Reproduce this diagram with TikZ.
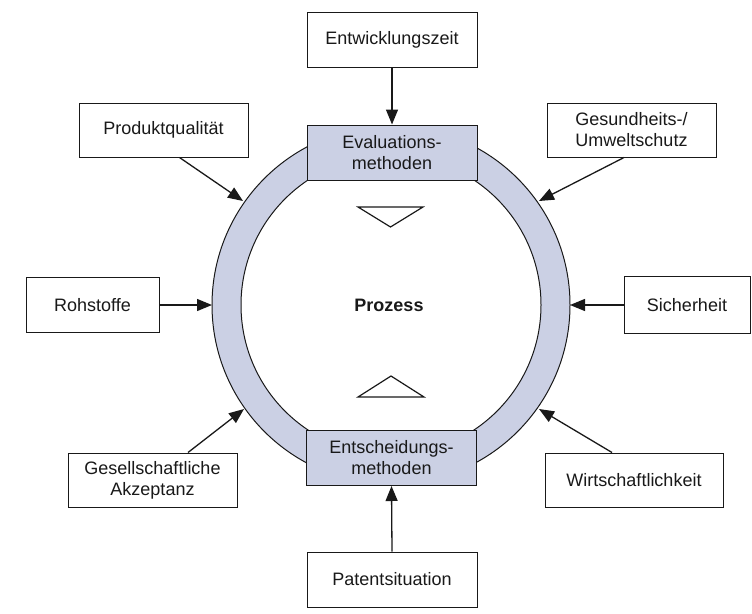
\documentclass[tikz,border=0pt]{standalone}
\usepackage{fontspec}
\setmainfont{Liberation Sans}
\usetikzlibrary{arrows.meta}
\definecolor{ringfill}{RGB}{203,208,228}
\definecolor{ink}{RGB}{25,25,25}
\begin{document}
\begin{tikzpicture}[x=1pt,y=-1pt,
  box/.style={draw=ink, line width=1pt, fill=white, inner sep=0pt,
    font=\fontsize{18}{21}\selectfont, align=center, text=ink},
  methbox/.style={box, fill=ringfill, minimum width=170pt, minimum height=55pt},
  arr/.style={draw=ink, line width=1.3pt, -{Triangle[length=15pt,width=12pt]}},
  tri/.style={draw=ink, line width=1.2pt}]
\useasboundingbox (0,0) rectangle (752,613);
\coordinate (c) at (391,305);
% ring
\fill[ringfill, even odd rule] (c) circle[radius=179pt] (c) circle[radius=150pt];
\draw[ink, line width=1pt] (c) circle[radius=179pt];
\draw[ink, line width=1pt] (c) circle[radius=150pt];
% method boxes
\node[methbox] (eval) at (392,152.5) {Evaluations-\\methoden};
\node[methbox] (ents) at (391.5,458) {Entscheidungs-\\methoden};
% outer boxes
\node[box, minimum width=170pt, minimum height=55pt] (entw) at (392,39.5) {Entwicklungszeit};
\node[box, minimum width=170pt, minimum height=55pt] (pat) at (392,579.5) {Patentsituation};
\node[box, minimum width=169pt, minimum height=54pt] (prod) at (163.5,130) {Produktqualität};
\node[box, minimum width=169pt, minimum height=54pt] (ges) at (631.5,130) {Gesundheits-/\\Umweltschutz};
\node[box, minimum width=133pt, minimum height=55pt] (roh) at (92.5,305) {Rohstoffe};
\node[box, minimum width=126pt, minimum height=57pt] (sich) at (687,305) {Sicherheit};
\node[box, minimum width=169pt, minimum height=54pt] (gesell) at (152.5,480) {Gesellschaftliche\\Akzeptanz};
\node[box, minimum width=178pt, minimum height=54pt] (wirt) at (634,480) {Wirtschaftlichkeit};
% centre
\node[font=\bfseries\fontsize{18}{21}\selectfont, text=ink] (proz) at (389,305) {Prozess};
\draw[tri] (358,207) -- (423,207) -- (390.5,227) -- cycle;
\draw[tri] (358,397) -- (424,397) -- (391,376) -- cycle;
% ring targets
\coordinate (pqT) at (243,201);
\coordinate (guT) at (539,201);
\coordinate (geT) at (244,409);
\coordinate (wiT) at (539,409);
\coordinate (roT) at (212,305);
\coordinate (siT) at (570,305);
% arrows
\draw[arr] (entw.south) -- (eval.north);
\draw[arr] (pat.north) -- (ents.south);
\draw[arr] (roh.east) -- (roT);
\draw[arr] (sich.west) -- (siT);
\draw[arr] ([xshift=16pt]prod.south) -- (pqT);
\draw[arr] ([xshift=-7.5pt]ges.south) -- (guT);
\draw[arr] ([xshift=35.5pt]gesell.north) -- (geT);
\draw[arr] ([xshift=-22pt]wirt.north) -- (wiT);
\end{tikzpicture}
\end{document}
